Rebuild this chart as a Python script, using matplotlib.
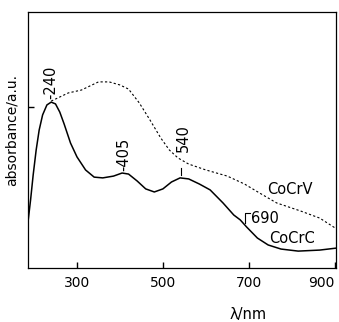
# absorbance spectra of CoCrC and CoCrV samples
import matplotlib
matplotlib.use("Agg")
import matplotlib.pyplot as plt

plt.rcParams["font.family"] = ["DejaVu Sans"]

# CoCrC (solid) spectrum
wl_c = [186, 192, 198, 205, 212, 220, 230, 240, 250, 260, 270, 285, 300,
        320, 340, 360, 385, 405, 420, 440, 460, 480, 500, 520, 540, 560,
        585, 610, 640, 665, 680, 695, 720, 745, 775, 815, 865, 905]
abs_c = [0.180, 0.266, 0.363, 0.461, 0.539, 0.598, 0.637, 0.648, 0.641,
         0.609, 0.563, 0.488, 0.434, 0.383, 0.355, 0.352, 0.359, 0.371,
         0.367, 0.340, 0.309, 0.297, 0.309, 0.336, 0.352, 0.348, 0.328,
         0.305, 0.254, 0.207, 0.188, 0.160, 0.117, 0.090, 0.074, 0.066,
         0.070, 0.078]

# CoCrV (dotted) spectrum
wl_v = [240, 260, 280, 310, 330, 350, 375, 400, 420, 445, 470, 495, 515,
        535, 560, 600, 650, 690, 725, 765, 820, 865, 905]
abs_v = [0.652, 0.668, 0.684, 0.695, 0.711, 0.727, 0.727, 0.715, 0.699,
         0.645, 0.578, 0.508, 0.461, 0.430, 0.406, 0.383, 0.359, 0.328,
         0.293, 0.254, 0.223, 0.195, 0.152]

xticks = [300, 500, 700, 900]

fig = plt.figure(figsize=(3.39, 3.22), dpi=100)
ax = fig.add_axes([0.0826, 0.1677, 0.9086, 0.795])

ax.plot(wl_c, abs_c, color="black", linewidth=1.1)
ax.plot(wl_v, abs_v, color="black", linewidth=0.8, linestyle=(0, (2, 2)))

ax.set_xlim(186, 903)
ax.set_ylim(0, 1.0)

ax.set_xticks(xticks)
ax.set_xticklabels([str(t) for t in xticks])
ax.set_yticks([0.63])
ax.set_yticklabels([])
ax.tick_params(direction="in", length=4, width=1, labelsize=10, pad=6)
labels = ax.get_xticklabels()
labels[-1].set_horizontalalignment("right")
for s in ax.spines.values():
    s.set_linewidth(0.9)

# peak labels
ax.text(240, 0.66, "-240", rotation=90, ha="center", va="bottom", fontsize=10.5)
ax.text(410, 0.378, "-405", rotation=90, ha="center", va="bottom", fontsize=10.5)
ax.text(547, 0.453, "540", rotation=90, ha="center", va="bottom", fontsize=10.5)
ax.plot([542, 542], [0.365, 0.392], color="black", linewidth=0.8)
ax.plot([691, 691, 702], [0.176, 0.215, 0.215], color="black", linewidth=0.8)
ax.text(705, 0.195, "690", ha="left", va="center", fontsize=10.5)
ax.text(795, 0.305, "CoCrV", ha="center", va="center", fontsize=10.5)
ax.text(800, 0.117, "CoCrC", ha="center", va="center", fontsize=10.5)

ax.set_ylabel("absorbance/a.u.", fontsize=10)
ax.yaxis.set_label_coords(-0.03, 0.54)
fig.text(248 / 339, 1 - 315 / 322, "λ/nm", ha="center", va="center", fontsize=10.5)

fig.savefig("out.png", dpi=100)
